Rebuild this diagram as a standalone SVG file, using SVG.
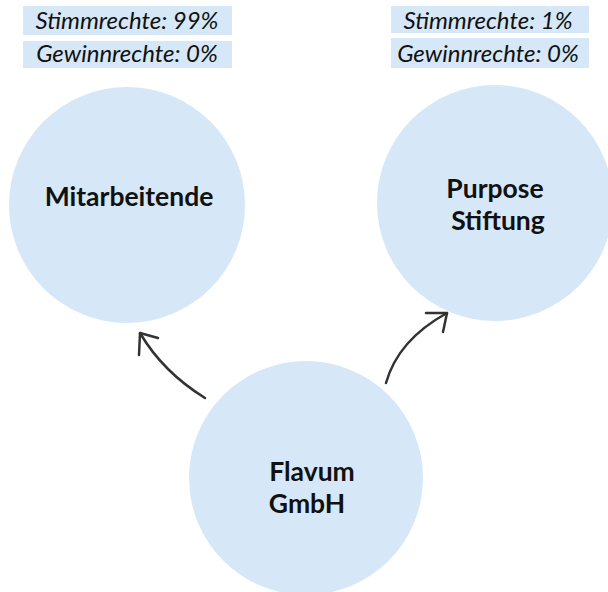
<svg xmlns="http://www.w3.org/2000/svg" width="608" height="592" viewBox="0 0 608 592">
<style>
.node{fill:#d6e8f7}
.name{font-family:Lato,"Open Sans",sans-serif;font-weight:bold;font-size:26.5px;fill:#111;text-anchor:middle}
.lbg{fill:#d6e8f7}
.lbl{font-family:Lato,"Open Sans",sans-serif;font-style:italic;font-size:24px;fill:#111;text-anchor:middle}
.conn{fill:none;stroke:#333;stroke-width:2.5;stroke-linecap:round;stroke-linejoin:round}
</style>
<rect width="608" height="592" fill="#fff"/>
<g id="label-mitarbeitende">
<rect class="lbg" x="23" y="6" width="209" height="29"/>
<rect class="lbg" x="23" y="41" width="209" height="27"/>
<text class="lbl" x="127" y="29">Stimmrechte: 99%</text>
<text class="lbl" x="127" y="62">Gewinnrechte: 0%</text>
</g>
<g id="label-purpose">
<rect class="lbg" x="391" y="6" width="198" height="27"/>
<rect class="lbg" x="391" y="38" width="198" height="30"/>
<text class="lbl" x="488" y="29">Stimmrechte: 1%</text>
<text class="lbl" x="488" y="62">Gewinnrechte: 0%</text>
</g>
<g id="node-mitarbeitende">
<circle class="node" cx="127" cy="205" r="118"/>
<text class="name" x="129" y="206">Mitarbeitende</text>
</g>
<g id="node-purpose">
<circle class="node" cx="495" cy="203" r="118"/>
<text class="name" x="495" y="198">Purpose</text>
<text class="name" x="498" y="230">Stiftung</text>
</g>
<g id="node-flavum">
<circle class="node" cx="306" cy="478" r="117"/>
<text class="name" x="312" y="481">Flavum</text>
<text class="name" x="307" y="513">GmbH</text>
</g>
<g id="connectors">
<path class="conn" d="M205 398 Q163 372 140 333"/>
<path class="conn" d="M139 355 L140 333 L158 338"/>
<path class="conn" d="M386 383 Q398 340 447 313"/>
<path class="conn" d="M426 313 L447 313 L443 332"/>
</g>
</svg>
